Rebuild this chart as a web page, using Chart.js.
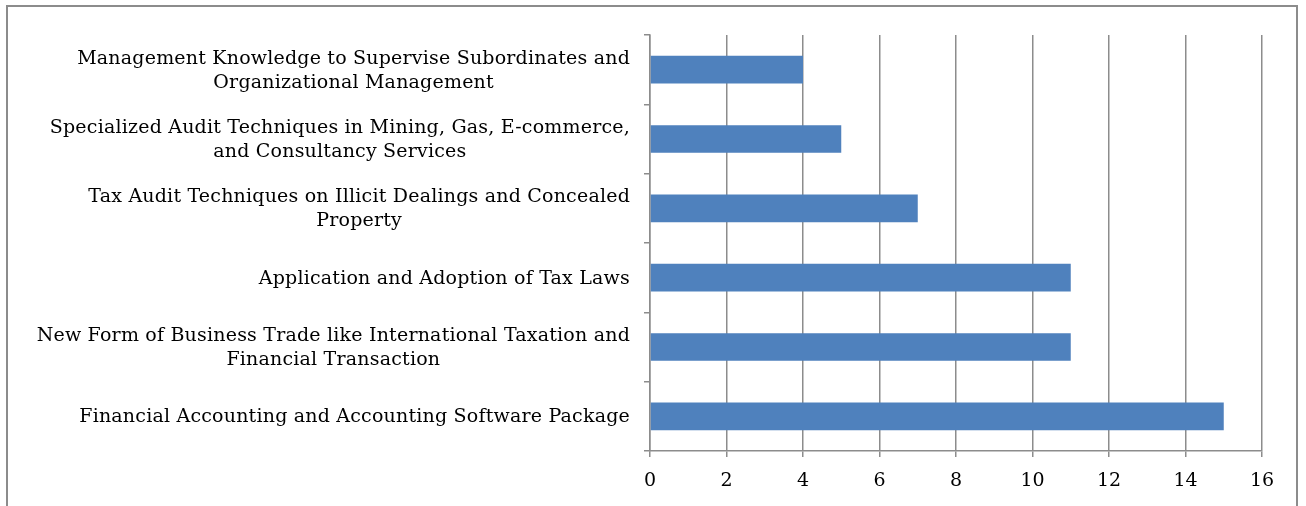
<!DOCTYPE html>
<html>
<head>
<meta charset="utf-8">
<script src="https://cdn.jsdelivr.net/npm/chart.js@4/dist/chart.umd.min.js"></script>
<style>
  body { margin: 0; background: #fff; overflow: hidden; }
  #wrap { position: relative; width: 1306px; height: 506px; }
  #frame { position: absolute; left: 6px; top: 5px; width: 1292px; height: 600px; border: 2px solid #8c8c8c; box-sizing: border-box; }
  canvas { position: absolute; left: 0; top: 0; }
</style>
</head>
<body>
<div id="wrap">
  <div id="frame"></div>
  <canvas id="skillChart" width="1306" height="506"></canvas>
</div>
<script>
var categories = [
    ['Management Knowledge to Supervise Subordinates and', 'Organizational Management'],
    ['Specialized Audit Techniques in Mining, Gas, E-commerce,', 'and Consultancy Services'],
    ['Tax Audit Techniques on Illicit Dealings and Concealed', 'Property'],
    ['Application and Adoption of Tax Laws'],
    ['New Form of Business Trade like International Taxation and', 'Financial Transaction'],
    ['Financial Accounting and Accounting Software Package']
];
var counts = [4, 5, 7, 11, 11, 15];
var xTicks = [0, 2, 4, 6, 8, 10, 12, 14, 16];

var fontFamily = '"DejaVu Serif", serif';
var fontSize = 19;
var lineGap = 24;

// draws the category labels: block right-aligned, lines centred inside it
var labelPlugin = {
    id: 'labelPlugin',
    afterDraw: function(chart) {
        var ctx = chart.ctx;
        var yScale = chart.scales.y;
        var right = yScale.right - 20;
        ctx.save();
        ctx.font = fontSize + 'px ' + fontFamily;
        ctx.letterSpacing = '0.2px';
        ctx.fillStyle = '#000';
        ctx.textAlign = 'center';
        ctx.textBaseline = 'middle';
        categories.forEach(function(lines, i) {
            var maxW = 0;
            lines.forEach(function(l) { maxW = Math.max(maxW, ctx.measureText(l).width); });
            var cx = right - maxW / 2;
            var cy = yScale.getPixelForValue(i) + 1;
            var y0 = cy - (lines.length - 1) * lineGap / 2;
            lines.forEach(function(l, j) { ctx.fillText(l, cx, y0 + j * lineGap); });
        });
        ctx.restore();
    }
};

var ctx = document.getElementById('skillChart').getContext('2d');
var skillChart = new Chart(ctx, {
    type: 'bar',
    data: {
        labels: categories.map(function(c) { return c.join(' '); }),
        datasets: [{
            data: counts,
            backgroundColor: '#4f81bd',
            borderWidth: 0,
            categoryPercentage: 1,
            barPercentage: 0.4
        }]
    },
    options: {
        indexAxis: 'y',
        responsive: false,
        animation: false,
        layout: { padding: { top: 35, right: 44, left: 0, bottom: 0 } },
        plugins: {
            legend: { display: false },
            tooltip: { enabled: false }
        },
        scales: {
            x: {
                min: 0,
                max: 16,
                afterBuildTicks: function(scale) {
                    scale.ticks = xTicks.map(function(v) { return { value: v }; });
                },
                afterFit: function(scale) { scale.height = 55; },
                grid: { color: '#8c8c8c', lineWidth: 1.5, tickLength: 6 },
                border: { color: '#8c8c8c', width: 1.5 },
                ticks: {
                    color: '#000',
                    padding: 13,
                    font: { family: fontFamily, size: 19 }
                }
            },
            y: {
                afterFit: function(scale) { scale.width = 650; },
                grid: { drawOnChartArea: false, color: '#8c8c8c', lineWidth: 1.5, tickLength: 6, offset: true },
                border: { color: '#8c8c8c', width: 1.5 },
                ticks: { display: false }
            }
        }
    },
    plugins: [labelPlugin]
});
</script>
</body>
</html>
